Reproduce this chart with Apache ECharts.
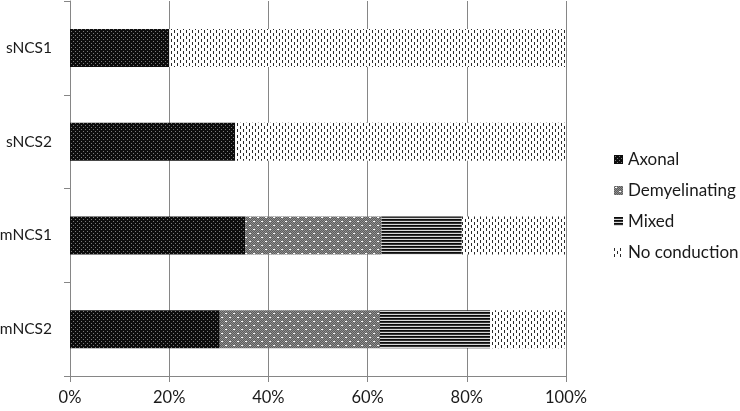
<!DOCTYPE html>
<html>
<head>
<meta charset="utf-8">
<script src="https://cdn.jsdelivr.net/npm/echarts@6/dist/echarts.min.js"></script>
<style>html,body{margin:0;padding:0;background:#fff}#c{width:740px;height:411px}</style>
</head>
<body>
<div id="c"></div>
<script>
const categories = ['sNCS1', 'sNCS2', 'mNCS1', 'mNCS2'];
const seriesNames = ['Axonal', 'Demyelinating', 'Mixed', 'No conduction'];
const axonal = [20, 33.3, 35.3, 30.2];
const demyelinating = [0, 0, 27.5, 32.3];
const mixed = [0, 0, 16.2, 22.2];
const noConduction = [80, 66.7, 21.0, 15.3];
const xTicks = [0, 20, 40, 60, 80, 100];

function tile(w, h, draw) {
  const c = document.createElement('canvas');
  c.width = w; c.height = h;
  const g = c.getContext('2d');
  draw(g);
  return { image: c, repeat: 'repeat' };
}
const patAxonal = tile(4, 4, g => {
  g.fillStyle = '#0d0d0d'; g.fillRect(0, 0, 4, 4);
  g.fillStyle = '#7a7a7a'; g.fillRect(1, 1, 1, 1); g.fillRect(3, 3, 1, 1);
});
const patDemy = tile(8, 8, g => {
  for (let y = 0; y < 8; y++) for (let x = 0; x < 8; x++) {
    g.fillStyle = ((x + y) % 2) ? '#5c5c5c' : '#8e8e8e';
    g.fillRect(x, y, 1, 1);
  }
  g.fillStyle = '#fff'; g.fillRect(1, 1, 2, 1); g.fillRect(5, 5, 2, 1);
});
const patMixed = tile(4, 3, g => {
  g.fillStyle = '#0a0a0a'; g.fillRect(0, 0, 4, 1);
  g.fillStyle = '#333'; g.fillRect(0, 1, 4, 1);
  g.fillStyle = '#d8d8d8'; g.fillRect(0, 2, 4, 1);
});
const patNoCond = tile(6, 6, g => {
  g.fillStyle = '#fff'; g.fillRect(0, 0, 6, 6);
  g.fillStyle = '#2a2a2a'; g.fillRect(0, 0, 1, 3); g.fillRect(3, 3, 1, 3);
});

const patterns = [patAxonal, patDemy, patMixed, patNoCond];
const dataSets = [axonal, demyelinating, mixed, noConduction];
const font = 'Lato, "Open Sans", sans-serif';

const chart = echarts.init(document.getElementById('c'), null, { renderer: 'canvas' });
chart.setOption({
  animation: false,
  backgroundColor: '#fff',
  grid: { left: 70, right: 174, top: 1, bottom: 35, containLabel: false, outerBoundsMode: 'none' },
  legend: {
    orient: 'vertical', left: 609, top: 146, itemGap: 14,
    itemWidth: 9, itemHeight: 9, icon: 'rect',
    textStyle: { fontFamily: font, fontSize: 17, color: '#1a1a1a' },
    data: seriesNames
  },
  xAxis: {
    type: 'value', min: 0, max: 100, interval: 20,
    axisLine: { show: true, lineStyle: { color: '#868686' } },
    axisTick: { show: true, length: 6, lineStyle: { color: '#868686' } },
    splitLine: { show: true, lineStyle: { color: '#868686' } },
    axisLabel: {
      margin: 13, fontFamily: font, fontSize: 16.5, color: '#1a1a1a',
      formatter: v => xTicks.includes(v) ? v + '%' : ''
    }
  },
  yAxis: {
    type: 'category', inverse: true, data: categories,
    axisLine: { show: true, lineStyle: { color: '#868686' } },
    axisTick: { show: true, length: 6, lineStyle: { color: '#868686' } },
    axisLabel: { margin: 18, fontFamily: font, fontSize: 15.5, color: '#1a1a1a' }
  },
  series: seriesNames.map((n, i) => ({
    name: n, type: 'bar', stack: 'all', barWidth: 38,
    data: dataSets[i],
    itemStyle: { color: patterns[i] }
  }))
});
</script>
</body>
</html>
